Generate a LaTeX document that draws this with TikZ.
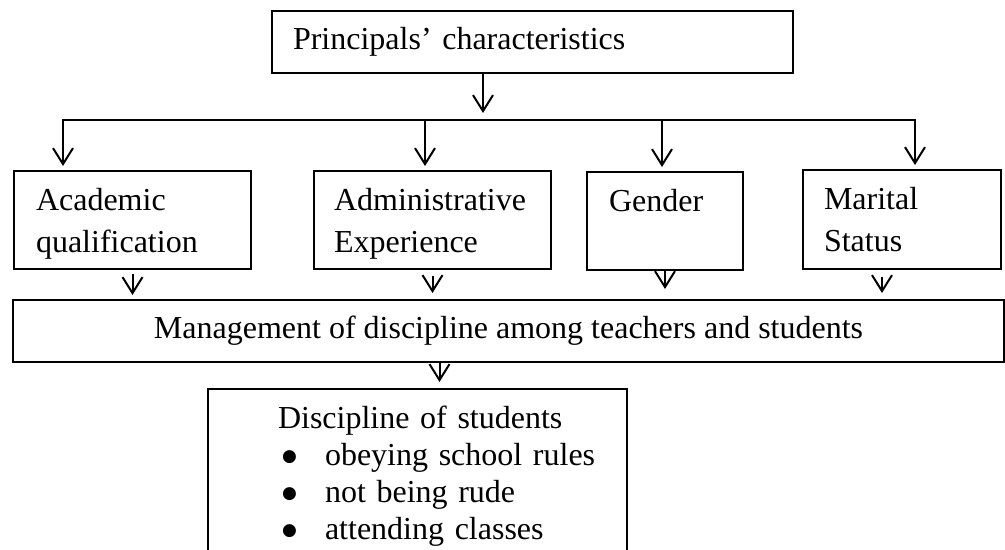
\documentclass[tikz,border=0pt]{standalone}
\usepackage{fontspec}
\setmainfont{Liberation Serif}
\newfontfamily\bulletfont{DejaVu Sans}
\usetikzlibrary{arrows.meta}

\newcommand\ditem[1]{\hspace*{37pt}\makebox[21.5pt][l]{\raisebox{2pt}{\bulletfont\fontsize{8.5}{0}\selectfont ●}}#1}
\newcommand\nodepth[1]{\raisebox{0pt}[\height][0pt]{#1}}

\tikzset{
  box/.style={draw, anchor=north west, align=left, inner ysep=0pt,
    font=\fontsize{16}{21}\selectfont},
}

\begin{document}
\begin{tikzpicture}[x=0.5pt,y=-0.5pt,>={Straight Barb[length=8pt,width=10pt]},line width=1pt]
\useasboundingbox (0,0) rectangle (1005,550);

\node[box,text width=239.5pt,inner xsep=10.5pt,minimum height=31pt] (princ) at (271,10) {Principals’ characteristics};
\node[box,text width=96.5pt,inner xsep=11pt,minimum height=49pt] (acad) at (13,170) {Academic\\\nodepth{qualification}};
\node[box,text width=98.5pt,inner xsep=10pt,minimum height=49pt] (admin) at (313,170) {Administrative\\\nodepth{Experience}};
\node[box,text width=56pt,inner xsep=11pt,minimum height=49pt] (gender) at (586,171) {Gender\\\mbox{}};
\node[box,text width=78pt,inner xsep=10.5pt,minimum height=49.5pt] (marital) at (802,169) {Marital\\Status};
\node[box,align=center,inner xsep=0pt,minimum width=495.5pt,minimum height=31pt] (mgmt) at (12,299) {Management of discipline among teachers and students};
\node[box,text width=209.5pt,inner xsep=0pt,inner ysep=8.5pt,font=\fontsize{16}{18.5}\selectfont] (disc) at (207,388)
  {\hspace*{35pt}Discipline of students\\\ditem{obeying school rules}\\\ditem{not being rude}\\\ditem{attending classes}};

% branches
\coordinate (split) at (483,113);
\coordinate (b1) at (63,120);
\coordinate (b2) at (425,120);
\coordinate (b3) at (662,120);
\coordinate (b4) at (915,120);

\draw[->] (split |- princ.south) -- (split);
\draw[<->,shorten <=2pt,shorten >=2pt] (b1 |- acad.north) -- (b1) -- (b4) -- (b4 |- marital.north);
\draw[->,shorten >=2pt] (b2) -- (b2 |- admin.north);
\draw[->,shorten >=2pt] (b3) -- (b3 |- gender.north);

% into management box
\draw[->,shorten <=2pt,shorten >=2pt] (acad) -- (acad |- mgmt.north);
\draw[->,shorten <=3pt,shorten >=3pt] (admin) -- (admin |- mgmt.north);
\draw[->,shorten >=5pt] (gender) -- (gender |- mgmt.north);
\draw[->,shorten <=3.5pt,shorten >=3pt] ([xshift=-10pt]marital.south) -- ([xshift=-10pt]marital.south |- mgmt.north);
\draw[->,shorten >=3pt] ([xshift=11pt]disc.north |- mgmt.south) -- ([xshift=11pt]disc.north);
\end{tikzpicture}
\end{document}
